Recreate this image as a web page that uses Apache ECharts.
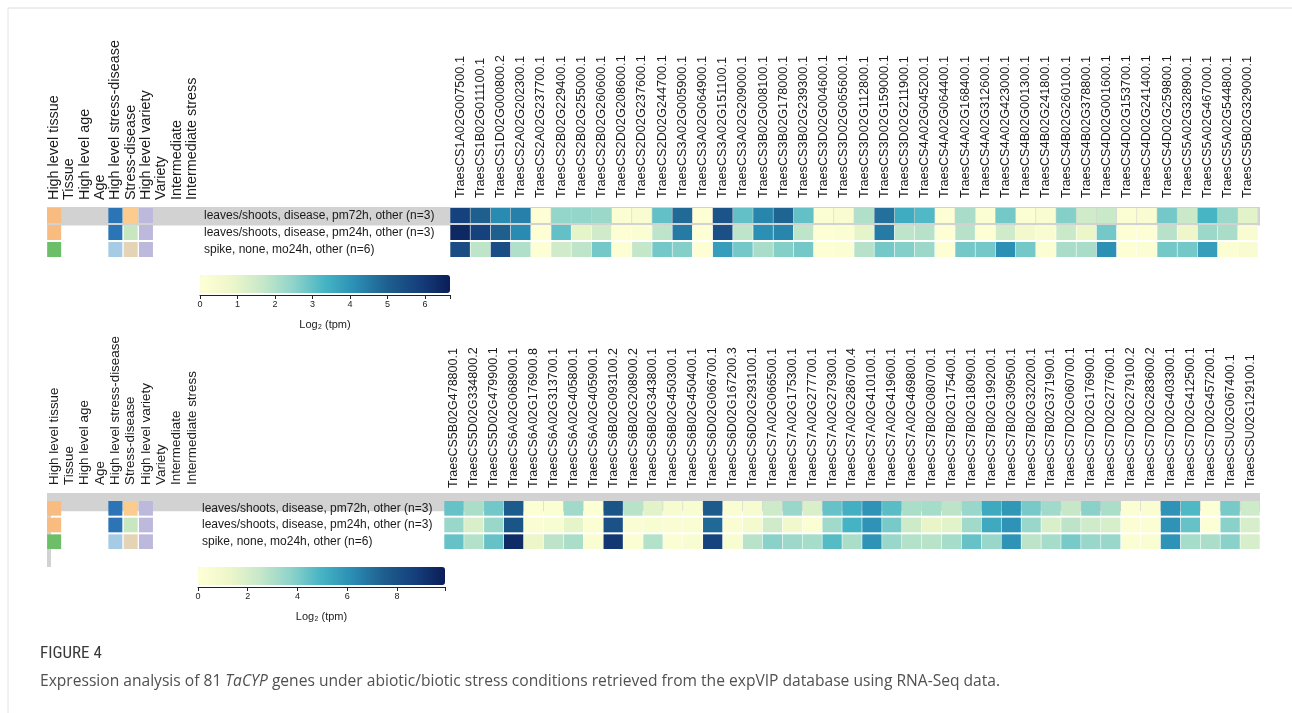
<!DOCTYPE html>
<html>
<head>
<meta charset="utf-8">
<script src="https://cdn.jsdelivr.net/npm/echarts@6/dist/echarts.min.js"></script>
<style>
html,body{margin:0;padding:0;background:#fff;}
#main{width:1292px;height:713px;}
</style>
</head>
<body>
<div id="main"></div>
<script>
// ---------------- DATA ----------------
const topGenes = [
 'TraesCS1A02G007500.1','TraesCS1B02G011100.1','TraesCS1D02G000800.2','TraesCS2A02G202300.1','TraesCS2A02G237700.1',
 'TraesCS2B02G229400.1','TraesCS2B02G255000.1','TraesCS2B02G260600.1','TraesCS2D02G208600.1','TraesCS2D02G237600.1',
 'TraesCS2D02G244700.1','TraesCS3A02G005900.1','TraesCS3A02G064900.1','TraesCS3A02G151100.1','TraesCS3A02G209000.1',
 'TraesCS3B02G008100.1','TraesCS3B02G178000.1','TraesCS3B02G239300.1','TraesCS3D02G004600.1','TraesCS3D02G065600.1',
 'TraesCS3D02G112800.1','TraesCS3D02G159000.1','TraesCS3D02G211900.1','TraesCS4A02G045200.1','TraesCS4A02G064400.1',
 'TraesCS4A02G168400.1','TraesCS4A02G312600.1','TraesCS4A02G423000.1','TraesCS4B02G001300.1','TraesCS4B02G241800.1',
 'TraesCS4B02G260100.1','TraesCS4B02G378800.1','TraesCS4D02G001600.1','TraesCS4D02G153700.1','TraesCS4D02G241400.1',
 'TraesCS4D02G259800.1','TraesCS5A02G328900.1','TraesCS5A02G467000.1','TraesCS5A02G544800.1','TraesCS5B02G329000.1'
];
const bottomGenes = [
 'TraesCS5B02G478800.1','TraesCS5D02G334800.2','TraesCS5D02G479900.1','TraesCS6A02G068900.1','TraesCS6A02G176900.8',
 'TraesCS6A02G313700.1','TraesCS6A02G405800.1','TraesCS6A02G405900.1','TraesCS6B02G093100.2','TraesCS6B02G208900.2',
 'TraesCS6B02G343800.1','TraesCS6B02G450300.1','TraesCS6B02G450400.1','TraesCS6D02G066700.1','TraesCS6D02G167200.3',
 'TraesCS6D02G293100.1','TraesCS7A02G066500.1','TraesCS7A02G175300.1','TraesCS7A02G277700.1','TraesCS7A02G279300.1',
 'TraesCS7A02G286700.4','TraesCS7A02G410100.1','TraesCS7A02G419600.1','TraesCS7A02G469800.1','TraesCS7B02G080700.1',
 'TraesCS7B02G175400.1','TraesCS7B02G180900.1','TraesCS7B02G199200.1','TraesCS7B02G309500.1','TraesCS7B02G320200.1',
 'TraesCS7B02G371900.1','TraesCS7D02G060700.1','TraesCS7D02G176900.1','TraesCS7D02G277600.1','TraesCS7D02G279100.2',
 'TraesCS7D02G283600.2','TraesCS7D02G403300.1','TraesCS7D02G412500.1','TraesCS7D02G457200.1','TraesCSU02G067400.1',
 'TraesCSU02G129100.1'
];
const conditions = [
 'leaves/shoots, disease, pm72h, other (n=3)',
 'leaves/shoots, disease, pm24h, other (n=3)',
 'spike, none, mo24h, other (n=6)'
];
const annotationColumns = ['High level tissue','Tissue','High level age','Age','High level stress-disease',
 'Stress-disease','High level variety','Variety','Intermediate','Intermediate stress'];

// log2(tpm) values, top panel
const topPm72h = [5.8,5.0,4.2,4.4,0.1,2.4,2.4,2.3,0.2,0.3,3.0,4.8,0.1,5.3,3.0,4.3,4.9,3.0,0.2,0.3,
                  2.0,4.7,3.5,3.2,0.1,2.1,0.2,2.8,0.2,0.3,2.6,1.5,1.6,0.2,0.3,2.8,1.6,3.3,2.3,1.1];
const topPm24h = [6.4,5.8,5.0,4.2,0.1,3.0,1.0,1.5,0.1,0.2,1.8,4.5,0.1,5.4,1.8,4.1,4.3,1.8,0.1,0.2,
                  1.0,4.5,1.8,1.9,0.1,1.9,0.1,1.5,0.6,0.3,1.6,0.9,2.8,0.1,0.1,1.9,0.8,2.3,2.1,0.3];
const topSpike  = [5.5,1.8,5.5,2.0,0.1,1.5,1.8,2.8,0.1,1.7,2.8,2.6,0.1,3.8,2.8,2.1,2.6,2.8,0.1,0.2,
                  1.9,2.8,2.6,2.3,0.1,2.8,2.8,4.1,2.8,0.2,2.1,2.1,4.1,0.1,0.2,2.8,2.8,3.8,0.2,0.3];
// log2(tpm) values, bottom panel
const bottomPm72h = [4.4,3.1,4.2,7.6,0.2,0.3,3.3,0.2,7.9,2.8,1.6,0.6,0.5,7.6,0.4,0.6,2.3,3.5,1.9,4.4,
                     5.1,6.0,4.6,3.1,3.2,2.7,3.5,5.3,5.9,4.1,3.3,2.5,3.8,3.1,0.3,0.4,6.0,4.8,0.2,4.1,2.3];
const bottomPm24h = [3.5,1.9,3.5,7.9,0.4,0.5,1.5,0.3,8.0,0.4,0.5,0.4,0.4,7.2,0.4,0.8,2.2,1.0,0.3,3.3,
                     5.0,6.0,4.1,2.3,1.4,1.6,3.3,5.3,6.0,3.5,1.9,2.7,2.2,2.0,0.3,0.3,6.0,4.4,0.2,3.8,2.0];
const bottomSpike = [4.4,2.9,4.4,9.4,1.3,2.7,3.1,0.4,9.0,0.3,2.9,0.3,0.5,8.6,0.5,2.8,3.8,3.4,3.2,4.7,
                     3.1,6.0,3.5,2.9,2.8,3.2,4.4,3.5,6.0,2.7,3.2,4.1,3.5,3.5,0.3,0.4,6.0,3.2,3.1,3.8,2.0];

// annotation colours per condition row
const highLevelTissue = ['#F8BC80','#F8BC80','#6DBE69'];
const highLevelStress = ['#2B75B6','#2B75B6','#A6CBE4'];
const stressDisease   = ['#FCCB8E','#C8E6C0','#E4D3B4'];
const highLevelVariety= ['#BDB9DC','#BDB9DC','#BDB9DC'];

// colour scales
const topScaleMax = 6.67, bottomScaleMax = 9.93;
const topTicks = [0,1,2,3,4,5,6];
const bottomTicks = [0,2,4,6,8];
const palette = ['#ffffd6','#eef7c9','#c7e8c9','#8ed3ca','#45b4c4','#2a8db3','#1e5f8e','#15407c','#0b1d58'];

// ---------------- BUILD ----------------
function heatData(rows){
  const d=[]; rows.forEach((r,ri)=>r.forEach((v,ci)=>d.push([ci,ri,v]))); return d;
}
function annData(){
  const cols = [[0,highLevelTissue],[4,highLevelStress],[5,stressDisease],[6,highLevelVariety]];
  const d=[];
  cols.forEach(([c,arr])=>arr.forEach((col,ri)=>d.push({value:[c,ri],itemStyle:{color:col, opacity:1}})));
  return d;
}
function renderCell(params, api){
  const p = api.coord([api.value(0), api.value(1)]);
  const s = api.size([1,1]);
  const w = s[0]-0.6, h = s[1]-2;
  return {type:'rect', shape:{x:p[0]-w/2, y:p[1]-h/2, width:w, height:h}, style:{fill:api.visual('color')}};
}
const FONT = 'Liberation Sans, Arial, sans-serif';
const L = { // layout
  top:   {hmLeft:450, hmWidth:808, gTop:207, gH:51, annLeft:46.5, annW:153, geneMargin:9, headMargin:7, headFont:14.4, geneFont:12.7, rowMargin:246, cbLeft:200, cbW:250, cbTop:275},
  bottom:{hmLeft:444, hmWidth:816, gTop:500, gH:50, annLeft:46.5, annW:153, geneMargin:12, headMargin:15, headFont:13.4, geneFont:12.5, rowMargin:242, cbLeft:198, cbW:247, cbTop:567}
};
const grids=[], xAxes=[], yAxes=[], series=[], visualMaps=[];
function panel(cfg, genes, rows, max, ticks, interval){
  const gi = grids.length;
  grids.push({left:cfg.hmLeft, width:cfg.hmWidth, top:cfg.gTop, height:cfg.gH});
  xAxes.push({type:'category', gridIndex:gi, data:genes, position:'top', axisLine:{show:false}, axisTick:{show:false},
    axisLabel:{rotate:-90, interval:0, fontSize:cfg.geneFont, margin:cfg.geneMargin, color:'#1a1a1a', fontFamily:FONT}});
  yAxes.push({type:'category', gridIndex:gi, data:conditions, inverse:true, axisLine:{show:false}, axisTick:{show:false},
    axisLabel:{align:'left', margin:cfg.rowMargin, fontSize:12, color:'#1a1a1a', fontFamily:FONT}});
  const si = series.length;
  series.push({type:'custom', xAxisIndex:gi, yAxisIndex:gi, renderItem:renderCell, data:heatData(rows), encode:{x:0,y:1}, z:5});
  visualMaps.push({type:'continuous', seriesIndex:si, dimension:2, min:0, max:max, inRange:{color:palette},
    orient:'horizontal', left:cfg.cbLeft, top:cfg.cbTop, itemWidth:18, itemHeight:cfg.cbW, padding:0, calculable:false, text:null, hoverLink:false});
  grids.push({left:cfg.annLeft, width:cfg.annW, top:cfg.gTop, height:cfg.gH});
  xAxes.push({type:'category', gridIndex:gi+1, data:annotationColumns, position:'top', axisLine:{show:false}, axisTick:{show:false},
    axisLabel:{rotate:-90, interval:0, fontSize:cfg.headFont, margin:cfg.headMargin, color:'#1a1a1a', fontFamily:FONT}});
  yAxes.push({type:'category', gridIndex:gi+1, data:conditions, inverse:true, show:false});
  series.push({type:'scatter', xAxisIndex:gi+1, yAxisIndex:gi+1, symbol:'rect', symbolSize:[14, cfg.gH/3-2], data:annData(), z:5, silent:true, itemStyle:{opacity:1}});
  grids.push({left:cfg.cbLeft, width:cfg.cbW, top:cfg.cbTop+20, height:0});
  xAxes.push({type:'value', gridIndex:gi+2, min:0, max:max, interval:interval, position:'bottom',
    axisLine:{show:true, lineStyle:{color:'#222', width:1}}, axisTick:{show:true, length:4, lineStyle:{color:'#222'}},
    splitLine:{show:false},
    axisLabel:{fontSize:9, margin:5, color:'#222', fontFamily:FONT, formatter:v=>ticks.includes(v)?String(v):''},
    name:'Log\u2082 (tpm)', nameLocation:'middle', nameGap:24, nameTextStyle:{fontSize:11, color:'#222', fontFamily:FONT}});
  yAxes.push({type:'value', gridIndex:gi+2, show:false});
}
panel(L.top, topGenes, [topPm72h, topPm24h, topSpike], topScaleMax, topTicks, 1);
panel(L.bottom, bottomGenes, [bottomPm72h, bottomPm24h, bottomSpike], bottomScaleMax, bottomTicks, 2);

const chart = echarts.init(document.getElementById('main'), null, {renderer:'canvas'});
const rowH_top = L.top.gH/3, rowH_bot = L.bottom.gH/3;
chart.setOption({
  animation:false,
  backgroundColor:'#fff',
  grid:grids, xAxis:xAxes, yAxis:yAxes, series:series, visualMap:visualMaps,
  graphic:[
    {type:'line', shape:{x1:8,y1:8,x2:1292,y2:8}, style:{stroke:'#dcdcdc', lineWidth:1}, z:-10},
    {type:'line', shape:{x1:8,y1:8,x2:8,y2:713}, style:{stroke:'#e4e4e4', lineWidth:1}, z:-10},
    {type:'rect', shape:{x:47, y:L.top.gTop, width:1260-47, height:rowH_top+1.5}, style:{fill:'#d2d2d2'}, z:-5},
    {type:'rect', shape:{x:47, y:L.bottom.gTop-7, width:1260-47, height:rowH_bot+1.5}, style:{fill:'#d2d2d2'}, z:-5},
    {type:'rect', shape:{x:47, y:L.bottom.gTop-7, width:4, height:74}, style:{fill:'#d2d2d2'}, z:-5},
    {type:'text', left:40, top:645, style:{text:'FIGURE 4', fontSize:17, fill:'#3a3a3a', fontFamily:'Liberation Sans Narrow, Roboto Condensed, Open Sans, sans-serif'}},
    {type:'text', left:40, top:674, style:{
      text:'{n|Expression analysis of 81 }{i|TaCYP}{n| genes under abiotic/biotic stress conditions retrieved from the expVIP database using RNA-Seq data.}',
      rich:{n:{fontSize:15.6, fill:'#505050', fontFamily:'Liberation Sans Narrow, Open Sans, sans-serif'},
            i:{fontSize:15.6, fill:'#505050', fontStyle:'italic', fontFamily:'Liberation Sans Narrow, Open Sans, sans-serif'}}}}
  ]
});
</script>
</body>
</html>
